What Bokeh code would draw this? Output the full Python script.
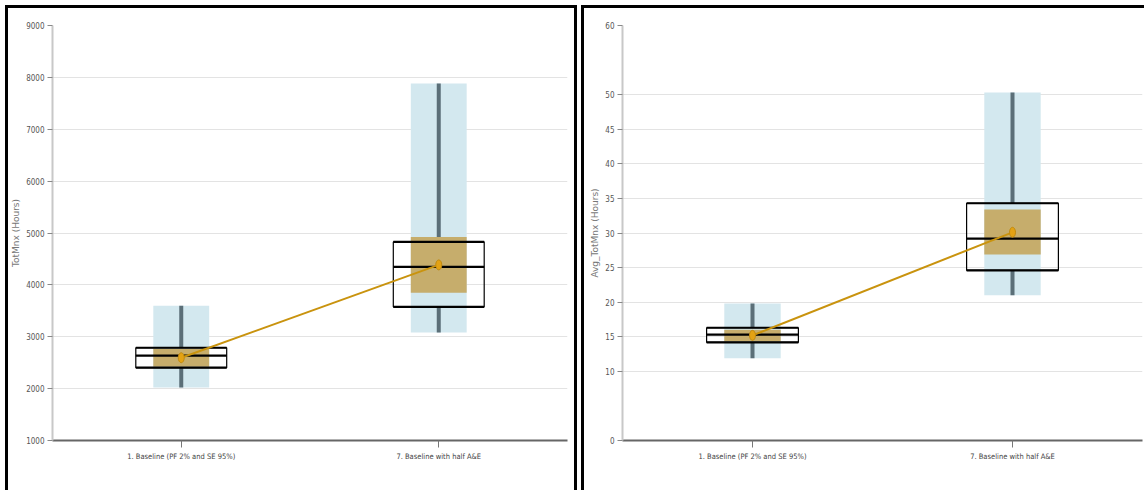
from bokeh.plotting import figure
from bokeh.layouts import row, column
from bokeh.models import FactorRange, FixedTicker, Range1d, Spacer
from bokeh.embed import file_html
from bokeh.resources import INLINE

categories = ["1. Baseline (PF 2% and SE 95%)", "7. Baseline with half A&E"]

# Left chart: TotMnx (Hours)
tot_low = [2020, 3080]
tot_high = [3600, 7880]
tot_q1 = [2404, 3577]
tot_median = [2635, 4346]
tot_q3 = [2788, 4827]
tot_ci_low = [2420, 3846]
tot_ci_high = [2770, 4923]
tot_mean = [2596, 4385]
tot_ticks = [1000, 2000, 3000, 4000, 5000, 6000, 7000, 8000, 9000]

# Right chart: Avg_TotMnx (Hours)
avg_low = [11.9, 21.0]
avg_high = [19.8, 50.3]
avg_q1 = [14.2, 24.6]
avg_median = [15.3, 29.2]
avg_q3 = [16.3, 34.3]
avg_ci_low = [14.3, 26.9]
avg_ci_high = [16.0, 33.4]
avg_mean = [15.2, 30.1]
avg_ticks = [0, 10, 15, 20, 25, 30, 35, 40, 45, 50, 60]

TICK_FONT = "'DejaVu Sans Condensed', 'Liberation Sans', sans-serif"
LABEL_FONT = "'DejaVu Sans', sans-serif"


def make_panel(ylabel, low, high, q1, med, q3, cil, cih, mean, ticks, yr,
               width, height, mbl, mbr, styles):
    p = figure(x_range=FactorRange(factors=categories, range_padding=0),
               y_range=Range1d(*yr), width=width, height=height,
               output_backend="svg", toolbar_location=None,
               min_border_left=mbl, min_border_right=mbr,
               min_border_top=17, min_border_bottom=50,
               outline_line_color=None, styles=styles)
    # range band
    p.vbar(x=categories, bottom=low, top=high, width=0.217,
           fill_color="#d3e8ef", line_color=None)
    # whiskers
    p.segment(x0=categories, y0=q3, x1=categories, y1=high,
              line_color="#5b6f78", line_width=4)
    p.segment(x0=categories, y0=low, x1=categories, y1=q1,
              line_color="#5b6f78", line_width=4)
    # confidence band
    p.vbar(x=categories, bottom=cil, top=cih, width=0.217,
           fill_color="#c6ad6c", line_color=None)
    # box
    p.vbar(x=categories, bottom=q1, top=q3, width=0.353,
           fill_alpha=0, line_color="black", line_width=1.2)
    p.vbar(x=categories, bottom=q1, top=q1, width=0.353,
           fill_alpha=0, line_color="black", line_width=2.2)
    p.vbar(x=categories, bottom=q3, top=q3, width=0.353,
           fill_alpha=0, line_color="black", line_width=2.2)
    p.vbar(x=categories, bottom=med, top=med, width=0.353,
           fill_alpha=0, line_color="black", line_width=2.2)
    # mean line
    p.line(x=categories, y=mean, line_color="#c9930e", line_width=2)
    p.ellipse(x=categories, y=mean, width=6, height=10,
              width_units="screen", height_units="screen",
              fill_color="#e3a214", line_color="#c08a10")

    p.xgrid.grid_line_color = None
    p.ygrid.grid_line_color = "#e3e3e3"
    p.ygrid.grid_line_width = 1

    p.yaxis.ticker = FixedTicker(ticks=ticks)
    p.yaxis.axis_label = ylabel
    p.yaxis.axis_label_text_font = LABEL_FONT
    p.yaxis.axis_label_text_font_size = "9px"
    p.yaxis.axis_label_text_font_style = "normal"
    p.yaxis.axis_label_text_color = "#777777"
    p.yaxis.axis_label_standoff = 2
    p.yaxis.major_label_text_font = TICK_FONT
    p.yaxis.major_label_text_font_size = "8px"
    p.yaxis.major_label_text_color = "#555555"
    p.yaxis.major_label_standoff = 3
    p.yaxis.axis_line_color = "#c8c8c8"
    p.yaxis.axis_line_width = 2
    p.yaxis.major_tick_line_color = "#888888"
    p.yaxis.major_tick_in = 0
    p.yaxis.major_tick_out = 5
    p.yaxis.minor_tick_line_color = None

    p.xaxis.axis_line_color = "#666666"
    p.xaxis.axis_line_width = 2
    p.xaxis.major_tick_line_color = "#777777"
    p.xaxis.major_tick_in = 0
    p.xaxis.major_tick_out = 7
    p.xaxis.major_label_text_font = TICK_FONT
    p.xaxis.major_label_text_font_size = "7.5px"
    p.xaxis.major_label_text_color = "#444444"
    p.xaxis.major_label_standoff = 4
    return p


p1 = make_panel("TotMnx (Hours)", tot_low, tot_high, tot_q1, tot_median, tot_q3,
                tot_ci_low, tot_ci_high, tot_mean, tot_ticks, (1000, 9000),
                566, 482, 44, 7,
                {"box-shadow": "-3px 0 0 0 black, 3px 0 0 0 black, 0 -3px 0 0 black, -3px -3px 0 0 black, 3px -3px 0 0 black"})
p2 = make_panel("Avg_TotMnx (Hours)", avg_low, avg_high, avg_q1, avg_median, avg_q3,
                avg_ci_low, avg_ci_high, avg_mean, avg_ticks, (0, 60),
                560, 482, 38, 2,
                {"box-shadow": "-3px 0 0 0 black, 0 -3px 0 0 black, -3px -3px 0 0 black"})

layout = column(Spacer(height=8, width=10),
                row(Spacer(width=8, height=10), p1, Spacer(width=10, height=10), p2,
                    spacing=0),
                spacing=0)
open("out.html", "w").write(file_html(layout, INLINE))
